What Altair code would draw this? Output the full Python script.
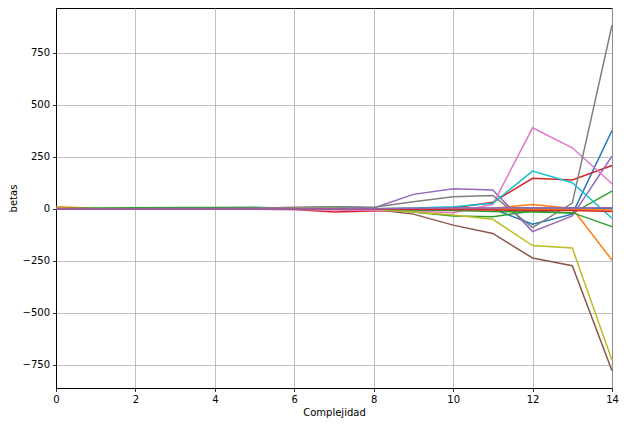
import altair as alt
import pandas as pd

complejidad = list(range(15))
serie_names = [f"b{i}" for i in range(15)]
colors = ["#1f77b4", "#ff7f0e", "#2ca02c", "#d62728", "#9467bd", "#8c564b", "#e377c2",
          "#7f7f7f", "#bcbd22", "#17becf", "#1f77b4", "#ff7f0e", "#2ca02c", "#d62728", "#9467bd"]

b0 = [2, 1, 1, 1, 0, 0, 0, 1, 0, 0, 0, 0, -74, -25, 377]
b1 = [10, 3, 2, 2, 1, 1, 0, 2, 1, 3, 5, 3, 21, 2, -246]
b2 = [2, 5, 6, 7, 7, 8, 2, 1, 0, -15, -34, -38, -10, -21, 86]
b3 = [1, 1, 1, 0, -1, -2, -3, -15, -10, -5, 5, 32, 147, 139, 209]
b4 = [0, 1, 1, 2, 2, 3, 8, 10, 5, 70, 97, 91, -109, -34, 254]
b5 = [0, 0, 1, 1, 1, 1, 2, 5, -3, -25, -78, -118, -236, -273, -778]
b6 = [0, 0, 0, -1, -1, -2, -3, -5, -8, -10, -18, 22, 390, 294, 121]
b7 = [0, 0, 1, 1, 1, 2, 5, 10, 8, 35, 59, 65, -90, 28, 883]
b8 = [0, 0, 0, 0, 0, 1, 2, 3, -2, -15, -29, -50, -176, -188, -728]
b9 = [0, 0, 0, 0, 0, 1, 1, 2, 1, 5, 11, 27, 182, 126, -45]
b10 = [0, 0, 0, 0, 0, 0, 0, 0, 0, 1, 2, 2, 3, 5, 3]
b11 = [0, 0, 0, 0, 0, 0, 0, 0, 0, 1, 1, 0, -2, -3, -5]
b12 = [0, 0, 0, 0, 0, 0, 0, 0, 0, -5, -8, -12, -15, -18, -85]
b13 = [0, 0, 0, 0, 0, 0, 0, 0, 0, -2, -3, -5, -8, -8, -13]
b14 = [0, 0, 0, 0, 0, 0, 0, 0, 1, 3, 4, 5, 6, 5, 6]
series = [b0, b1, b2, b3, b4, b5, b6, b7, b8, b9, b10, b11, b12, b13, b14]

rows = []
for idx, (name, vals) in enumerate(zip(serie_names, series)):
    for x, v in zip(complejidad, vals):
        rows.append({"Complejidad": x, "betas": v, "serie": name, "serie_idx": idx})
df = pd.DataFrame(rows)

font = "DejaVu Sans"
chart = alt.Chart(df).mark_line(strokeWidth=1.5).encode(
    x=alt.X("Complejidad:Q", scale=alt.Scale(domain=[0, 14], nice=False, zero=False),
            axis=alt.Axis(values=list(range(0, 15, 2)), title="Complejidad")),
    y=alt.Y("betas:Q", scale=alt.Scale(domain=[-861, 966], nice=False),
            axis=alt.Axis(values=[-750, -500, -250, 0, 250, 500, 750], title="betas")),
    color=alt.Color("serie:N", scale=alt.Scale(domain=serie_names, range=colors), legend=None),
    order=alt.Order("serie_idx:Q"),
).properties(
    width=556, height=380,
    padding={"left": 0, "top": 0, "right": 0, "bottom": 5},
).configure_view(
    stroke="black", strokeWidth=1
).configure_axis(
    labelFont=font, labelFontSize=10, labelColor="black",
    titleFont=font, titleFontSize=10, titleFontWeight="normal", titleColor="black",
    tickColor="black", tickSize=3.5, tickWidth=0.8,
    domainColor="black", domainWidth=1,
    grid=True, gridColor="#b0b0b0", gridWidth=0.8,
    labelPadding=3, labelFlush=False,
).configure_axisY(
    titlePadding=4
).configure_axisX(
    titlePadding=3
)

chart.save("out.html", embed_options={"renderer": "svg", "actions": False})
